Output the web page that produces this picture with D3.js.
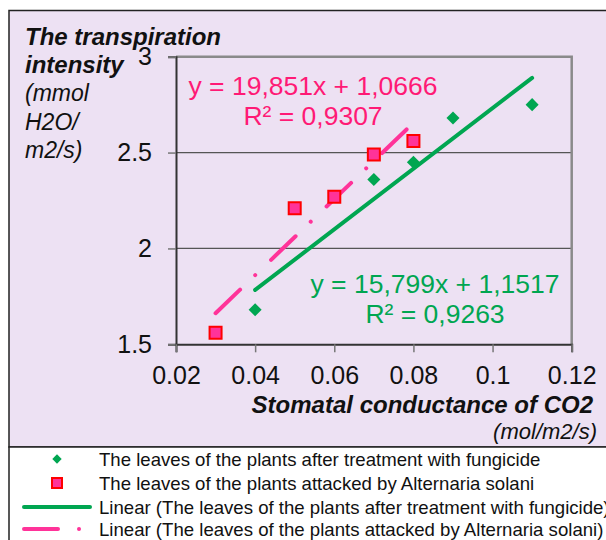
<!DOCTYPE html>
<html>
<head>
<meta charset="utf-8">
<script src="https://cdn.jsdelivr.net/npm/d3@7"></script>
<style>
  body { margin: 0; background: #fff; }
  text { font-family: Arial, "Liberation Sans", sans-serif; }
</style>
</head>
<body>
<script>
// data
var fungicideX = [0.04, 0.07, 0.08, 0.09, 0.11];
var fungicideY = [1.68, 2.36, 2.45, 2.68, 2.75];
var alternariaX = [0.03, 0.05, 0.06, 0.07, 0.08];
var alternariaY = [1.56, 2.21, 2.27, 2.49, 2.56];

// trendline coefficients (as printed on the chart)
var fungicideFit = {slope: 15.799, intercept: 1.1517, label1: "y = 15,799x + 1,1517", label2: "R² = 0,9263"};
var alternariaFit = {slope: 19.851, intercept: 1.0666, label1: "y = 19,851x + 1,0666", label2: "R² = 0,9307"};

var xTicks = [0.02, 0.04, 0.06, 0.08, 0.1, 0.12];
var yTicks = [1.5, 2, 2.5, 3];
var yTitle = ["The transpiration", "intensity"];
var yUnit = ["(mmol", "H2O/", "m2/s)"];
var xTitle = "Stomatal conductance of CO2";
var xUnit = "(mol/m2/s)";
var legendLabels = [
  "The leaves of the plants after treatment with fungicide",
  "The leaves of the plants attacked by Alternaria solani",
  "Linear (The leaves of the plants after treatment with fungicide)",
  "Linear (The leaves of the plants attacked by Alternaria solani)"
];

var green = "#00a651", pink = "#ff3399", pinkText = "#ff1a75", bg = "#ede1f3";

var svg = d3.select("body").append("svg")
    .attr("width", 606)
    .attr("height", 540);

// chart area + legend area
svg.append("rect").attr("x", 9).attr("y", 10.5).attr("width", 610).attr("height", 436.5)
    .attr("fill", bg).attr("stroke", "#222").attr("stroke-width", 1.5);
svg.append("rect").attr("x", 9).attr("y", 447).attr("width", 610).attr("height", 100)
    .attr("fill", "#fff").attr("stroke", "#222").attr("stroke-width", 1.5);

var x = d3.scaleLinear().domain([0.02, 0.12]).range([176, 571.7]);
var y = d3.scaleLinear().domain([1.5, 3]).range([344.3, 56.7]);

// gridlines
svg.append("g").selectAll("line")
    .data(yTicks.filter(d => d > 1.5 && d < 3))
    .enter().append("line")
    .attr("x1", x(0.02)).attr("x2", x(0.12))
    .attr("y1", d => y(d)).attr("y2", d => y(d))
    .attr("stroke", "#555").attr("stroke-width", 1.2);

// plot frame top/right
svg.append("path")
    .attr("d", "M" + x(0.02) + "," + y(3) + "H" + x(0.12) + "V" + y(1.5))
    .attr("fill", "none").attr("stroke", "#8a8a8a").attr("stroke-width", 2.5);

// axes
var yAxis = d3.axisLeft(y).tickValues(yTicks).tickSize(8).tickPadding(16).tickFormat(d => d);
var xAxis = d3.axisBottom(x).tickValues(xTicks).tickSize(8).tickPadding(14).tickFormat(d => d);

var gy = svg.append("g").attr("transform", "translate(" + x(0.02) + ",0)").call(yAxis);
var gx = svg.append("g").attr("transform", "translate(0," + y(1.5) + ")").call(xAxis);
[gy, gx].forEach(function(g) {
  g.select(".domain").attr("stroke", "#333").attr("stroke-width", 2);
  g.selectAll(".tick line").attr("stroke", "#777").attr("stroke-width", 1.5);
  g.selectAll(".tick text").attr("fill", "#111").style("font-size", "25px")
    .style("font-family", "Arial, 'Liberation Sans', sans-serif");
});

// trendlines
function fitLine(fit, xs) {
  var x0 = d3.min(xs), x1 = d3.max(xs);
  return [[x0, fit.slope * x0 + fit.intercept], [x1, fit.slope * x1 + fit.intercept]];
}
var line = d3.line().x(d => x(d[0])).y(d => y(d[1]));

svg.append("path").datum(fitLine(fungicideFit, fungicideX))
    .attr("d", line).attr("stroke", green).attr("stroke-width", 4)
    .attr("stroke-linecap", "round").attr("fill", "none");
svg.append("path").datum(fitLine(alternariaFit, alternariaX))
    .attr("d", line).attr("stroke", pink).attr("stroke-width", 4)
    .attr("stroke-linecap", "round").attr("stroke-dasharray", "34,21,0.01,22")
    .attr("fill", "none");

// points
var diamond = d3.symbol().type(d3.symbolSquare).size(85);
var square = d3.symbol().type(d3.symbolSquare).size(144);

svg.append("g").selectAll("path")
    .data(fungicideX.map((d, i) => [d, fungicideY[i]]))
    .enter().append("path")
    .attr("d", diamond)
    .attr("transform", d => "translate(" + x(d[0]) + "," + y(d[1]) + ") rotate(45)")
    .attr("fill", green);

svg.append("g").selectAll("path")
    .data(alternariaX.map((d, i) => [d, alternariaY[i]]))
    .enter().append("path")
    .attr("d", square)
    .attr("transform", d => "translate(" + x(d[0]) + "," + y(d[1]) + ")")
    .attr("fill", pink).attr("stroke", "#ff0000").attr("stroke-width", 2);

// trendline equations
function eq(fit, cx, y1, y2, color) {
  svg.append("text").attr("x", cx).attr("y", y1).attr("text-anchor", "middle")
    .attr("fill", color).style("font-size", "26.5px").text(fit.label1);
  svg.append("text").attr("x", cx).attr("y", y2).attr("text-anchor", "middle")
    .attr("fill", color).style("font-size", "26.5px").text(fit.label2);
}
eq(alternariaFit, 313, 95, 125, pinkText);
eq(fungicideFit, 435, 293, 323, green);

// axis titles
svg.append("g").selectAll("text").data(yTitle).enter().append("text")
    .attr("x", 25).attr("y", (d, i) => 45 + i * 28)
    .style("font-size", "24px").style("font-weight", "bold").style("font-style", "italic")
    .attr("fill", "#111").text(d => d);
svg.append("g").selectAll("text").data(yUnit).enter().append("text")
    .attr("x", 25).attr("y", (d, i) => 101 + i * 28.5)
    .style("font-size", "23px").style("font-style", "italic")
    .attr("fill", "#111").text(d => d);

svg.append("text").attr("x", 593).attr("y", 413).attr("text-anchor", "end")
    .style("font-size", "24px").style("font-weight", "bold").style("font-style", "italic")
    .attr("fill", "#111").text(xTitle);
svg.append("text").attr("x", 597).attr("y", 439).attr("text-anchor", "end")
    .style("font-size", "22px").style("font-style", "italic")
    .attr("fill", "#111").text(xUnit);

// legend
var legend = svg.append("g");
var rows = legend.selectAll("g").data(legendLabels).enter().append("g")
    .attr("transform", (d, i) => "translate(0," + [459, 483, 507, 529][i] + ")");
rows.append("text").attr("x", 99).attr("dy", "0.35em")
    .style("font-size", "18.6px").attr("fill", "#111").text(d => d);

rows.filter((d, i) => i === 0).append("path")
    .attr("d", d3.symbol().type(d3.symbolSquare).size(44))
    .attr("transform", "translate(57,0) rotate(45)").attr("fill", green);
rows.filter((d, i) => i === 1).append("path")
    .attr("d", d3.symbol().type(d3.symbolSquare).size(100))
    .attr("transform", "translate(57,0)")
    .attr("fill", pink).attr("stroke", "#ff0000").attr("stroke-width", 2);
rows.filter((d, i) => i === 2).append("line")
    .attr("x1", 24).attr("x2", 90).attr("stroke", green).attr("stroke-width", 4)
    .attr("stroke-linecap", "round");
rows.filter((d, i) => i === 3).append("line")
    .attr("x1", 24).attr("x2", 90).attr("stroke", pink).attr("stroke-width", 4)
    .attr("stroke-linecap", "round").attr("stroke-dasharray", "34,21,0.01,22");
</script>
</body>
</html>
